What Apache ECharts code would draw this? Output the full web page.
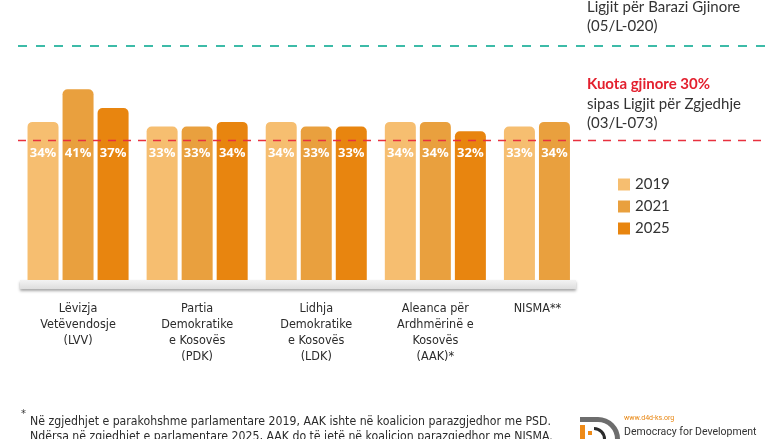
<!DOCTYPE html>
<html><head><meta charset="utf-8">
<script src="https://cdn.jsdelivr.net/npm/echarts@6/dist/echarts.min.js"></script>
<style>html,body{margin:0;padding:0;background:#fff}#c{width:780px;height:439px}</style>
</head><body><div id="c"></div>
<script>
const categories = ['Lëvizja\nVetëvendosje\n(LVV)', 'Partia\nDemokratike\ne Kosovës\n(PDK)', 'Lidhja\nDemokratike\ne Kosovës\n(LDK)', 'Aleanca për\nArdhmërinë e\nKosovës\n(AAK)*', 'NISMA**'];
const years = ['2019', '2021', '2025'];
const v2019 = [34, 33, 34, 34, 33];
const v2021 = [41, 33, 33, 34, 34];
const v2025 = [37, 34, 33, 32, null];
const quotaLow = 30;
const quotaHigh = 50;
const colors = ['#F6BE70', '#E9A03E', '#E8850F'];

const chart = echarts.init(document.getElementById('c'));
const condensed = '"Liberation Sans Narrow", "DejaVu Sans Condensed", sans-serif';

function barSeries(name, data, color) {
  return {
    name: name, type: 'bar', data: data, barWidth: 31, barGap: '13%',
    itemStyle: { color: color, borderRadius: [5, 5, 0, 0] },
    label: {
      show: true, position: 'insideBottom', distance: 120,
      color: '#fff', fontSize: 13, fontWeight: 'bold', fontFamily: '"Open Sans", sans-serif',
      formatter: p => p.value + '%'
    },
    z: 2
  };
}

chart.setOption({
  animation: false,
  grid: { left: 18.5, width: 595.5, top: 1, bottom: 159 },
  legend: {
    data: years, orient: 'vertical', left: 618, top: 176, icon: 'rect', padding: 0,
    itemWidth: 12, itemHeight: 12, itemGap: 5,
    textStyle: { fontSize: 15, color: '#333', fontFamily: 'Lato, sans-serif', lineHeight: 17 }
  },
  xAxis: {
    type: 'category', data: categories,
    axisLine: { show: false }, axisTick: { show: false },
    axisLabel: {
      margin: 21, interval: 0, color: '#2b2b2b', fontSize: 12.5, lineHeight: 16,
      fontFamily: condensed,
      formatter: (v) => v === 'NISMA**' ? '{n|' + v + '}' : v,
      rich: { n: { padding: [0, 34, 0, 0], fontSize: 12.5, fontFamily: condensed, color: '#2b2b2b' } }
    }
  },
  yAxis: { type: 'value', min: 0, max: 60, show: false, splitLine: { show: false } },
  series: [
    barSeries(years[0], v2019, colors[0]),
    barSeries(years[1], v2021, colors[1]),
    barSeries(years[2], v2025, colors[2])
  ]
});

const y0 = chart.convertToPixel({ yAxisIndex: 0 }, 0);
const y30 = chart.convertToPixel({ yAxisIndex: 0 }, quotaLow);
const y50 = chart.convertToPixel({ yAxisIndex: 0 }, quotaHigh);
const annFont = 'Lato, sans-serif';

function txt(x, y, text, font, fill, lh) {
  return { type: 'text', x: x, y: y, z: 10, style: { text: text, font: font, fill: fill, lineHeight: lh || undefined, textVerticalAlign: 'top' } };
}

chart.setOption({
  graphic: [
    { type: 'rect', z: 1, shape: { x: 20, y: y0, width: 556, height: 9 },
      style: { fill: new echarts.graphic.LinearGradient(0, 0, 0, 1, [{ offset: 0, color: '#f3f3f3' }, { offset: 1, color: '#dedede' }]),
        shadowBlur: 3, shadowOffsetY: 2, shadowColor: 'rgba(0,0,0,0.35)' } },
    { type: 'line', z: 5, shape: { x1: 18, y1: y30, x2: 762, y2: y30 },
      style: { stroke: '#E8313F', lineWidth: 1.5, lineDash: [8, 7] } },
    { type: 'line', z: 5, shape: { x1: 18, y1: y50 - 1.5, x2: 770, y2: y50 - 1.5 },
      style: { stroke: '#3DBBA8', lineWidth: 1.8, lineDash: [9, 9] } },
    txt(587, -2, 'Ligjit për Barazi Gjinore\n(05/L-020)', '15px ' + annFont, '#333', 19),
    txt(587, 77, 'Kuota gjinore 30%', 'bold 15px ' + annFont, '#E3202E'),
    txt(587, 95, 'sipas Ligjit për Zgjedhje\n(03/L-073)', '15px ' + annFont, '#333', 19),
    txt(21, 409, '*', '11px ' + condensed, '#333'),
    txt(30, 414, 'Në zgjedhjet e parakohshme parlamentare 2019, AAK ishte në koalicion parazgjedhor me PSD.\nNdërsa në zgjedhjet e parlamentare 2025, AAK do të jetë në koalicion parazgjedhor me NISMA.', '12.2px ' + condensed, '#2b2b2b', 15),
    // logo
    { type: 'rect', shape: { x: 580, y: 417, width: 18, height: 5 }, style: { fill: '#6d6d6d' } },
    { type: 'sector', shape: { cx: 598, cy: 439, r: 22, r0: 17, startAngle: -Math.PI / 2, endAngle: 0 }, style: { fill: '#6d6d6d' } },
    { type: 'sector', shape: { cx: 594, cy: 439, r: 12, r0: 9, startAngle: -Math.PI / 2, endAngle: 0 }, style: { fill: '#2b2b2b' } },
    { type: 'rect', shape: { x: 580, y: 425, width: 5, height: 14 }, style: { fill: '#EE8A17' } },
    { type: 'rect', shape: { x: 588, y: 431, width: 4, height: 4 }, style: { fill: '#EE8A17' } },
    txt(624, 415, 'www.d4d-ks.org', '7px Roboto, sans-serif', '#E8850F'),
    txt(624, 427, 'Democracy for Development', '10.5px Roboto, sans-serif', '#333')
  ]
});
</script></body></html>
